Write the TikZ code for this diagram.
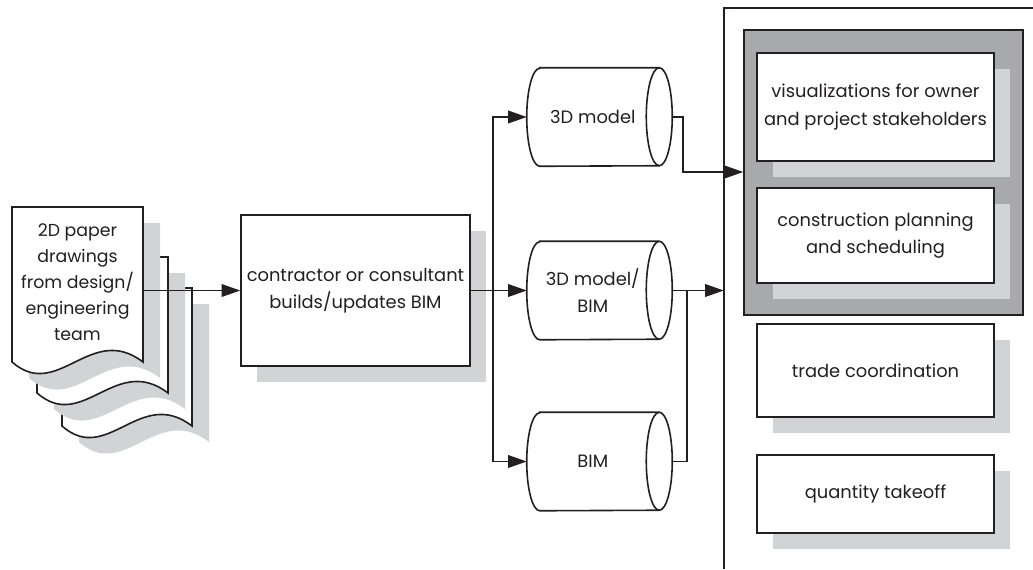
\documentclass[tikz,border=0pt]{standalone}
\usepackage{fontspec}
\setmainfont{Poppins}
\usetikzlibrary{arrows.meta,shadows}
\definecolor{ink}{HTML}{231F20}
\definecolor{shadowgrey}{HTML}{D1D3D4}
\definecolor{panelgrey}{HTML}{A7A9AC}

% one sheet of paper with a wavy lower edge, plus its grey shadow
\newcommand\sheet[4]{%
  \fill[shadowgrey,shift={(17,16)}] (#1,#4) -- (#1,#2) -- (#3,#2) -- (#3,#4)
    .. controls ({#1+0.6*(#3-#1)},{#4-40}) and ({#1+0.35*(#3-#1)},{#4+40}) .. (#1,#4) -- cycle;
  \filldraw[line,fill=white] (#1,#4) -- (#1,#2) -- (#3,#2) -- (#3,#4)
    .. controls ({#1+0.6*(#3-#1)},{#4-40}) and ({#1+0.35*(#3-#1)},{#4+40}) .. (#1,#4) -- cycle;
}

% horizontal drum (data store) drawn round a named node
\newcommand\drum[1]{%
  \filldraw[line,fill=white] ([xshift=9.75pt]#1.north west) -- ([xshift=-9.75pt]#1.north east)
    arc[start angle=90,end angle=-90,x radius=9.75pt,y radius=36.75pt]
    -- ([xshift=9.75pt]#1.south west)
    arc[start angle=270,end angle=90,x radius=9.75pt,y radius=36.75pt] -- cycle;
  \draw[line] ([xshift=-9.75pt]#1.north east)
    arc[start angle=90,end angle=270,x radius=9.75pt,y radius=36.75pt];
}

\begin{document}
\begin{tikzpicture}[x=0.75pt,y=-0.75pt,
  txt/.style={font=\fontsize{13.4}{20.5}\selectfont,text=ink,align=center},
  line/.style={draw=ink,line width=1.2pt},
  arr/.style={line,-{Triangle[length=14pt,width=9.5pt]}},
  box/.style={txt,line,fill=white,inner sep=0pt},
  shadowed/.style={drop shadow={shadow xshift=12pt,shadow yshift=-12pt,fill=shadowgrey,opacity=1}},
  drumnode/.style={inner sep=0pt,minimum width=108.75pt,minimum height=73.5pt},
  drumtext/.style={label={[txt,xshift=-5pt]center:{#1}}},
  result/.style={box,shadowed,minimum width=177.75pt}
]
\useasboundingbox (0,0) rectangle (1033,569);

% stack of paper drawings
\sheet{62}{288}{192}{426}
\sheet{37}{257}{168}{393}
\sheet{12}{207}{143}{362}
\node[txt,inner sep=0pt,minimum width=98.25pt,minimum height=116.25pt,
      font=\fontsize{13}{19.5}\selectfont] (paper) at (77.5,282)
  {2D paper\\drawings\\from design/\\engineering\\team};

% modelling step
\node[box,shadowed,minimum width=171.75pt,minimum height=113.25pt] (build) at (355.5,290.5)
  {contractor or consultant\\builds/updates BIM};

% model stores
\node[drumnode] (model) at (599.5,117) {};
\node[drumnode] (modelbim) at (599.5,290.5) {};
\node[drumnode] (bim) at (599.5,461.5) {};
\drum{model}
\drum{modelbim}
\drum{bim}
\node[drumnode,drumtext={3D model}] at (model) {};
\node[drumnode,drumtext={3D model/\\BIM}] at (modelbim) {};
\node[drumnode,drumtext={BIM}] at (bim) {};

% uses of the model
\node[inner sep=0pt,minimum width=231.75pt,minimum height=420.75pt] (uses) at (878.5,288.5) {};
\draw[line] (uses.south west) -- (uses.north west) -- (uses.north east);
\node[draw=ink,line width=1.1pt,fill=panelgrey,minimum width=209.25pt,minimum height=213.75pt]
  (panel) at (883.5,172.5) {};
\node[result,minimum height=81pt] (visual) at (875.5,107)
  {visualizations for owner\\and project stakeholders};
\node[result,minimum height=71.25pt] (plan) at (875.5,235.5)
  {construction planning\\and scheduling};
\node[result,minimum height=69.75pt] (trade) at (875.5,370.5) {trade coordination};
\node[result,minimum height=58.5pt] (takeoff) at (875.5,494) {quantity takeoff};

% connectors
\draw[arr] (paper.east |- build.west) -- (build.west);
\coordinate (split) at (493,290.5);
\draw[line] (build.east) -- (split);
\draw[arr] (split) |- (model.west);
\draw[arr] (split) -- (modelbim.west);
\draw[arr] (split) |- (bim.west);
\coordinate (bend) at (683,172);
\draw[arr] (model.east) -| (bend) -- (panel.west |- bend);
\coordinate (join) at (687,290.5);
\draw[arr] (modelbim.east) -- (uses.west |- join);
\draw[line] (bim.east) -| (join);
\end{tikzpicture}
\end{document}
